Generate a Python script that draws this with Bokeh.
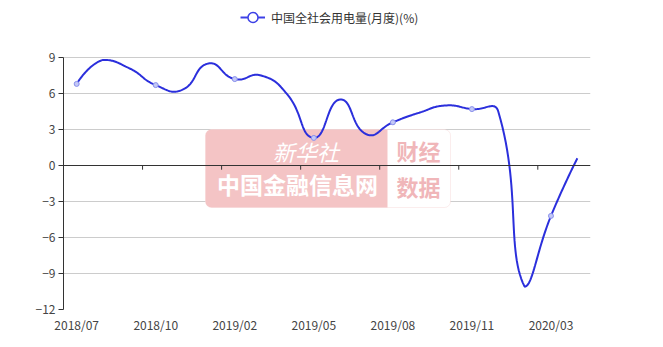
import numpy as np
from bokeh.plotting import figure
from bokeh.models import (Legend, LegendItem, Span, BoxAnnotation, Label,
                          FixedTicker, ColumnDataSource)
from bokeh.embed import file_html
from bokeh.resources import INLINE

# ---- data ----
months = ["2018/07", "2018/08", "2018/09", "2018/10", "2018/11", "2018/12",
          "2019/02", "2019/03", "2019/04", "2019/05", "2019/06", "2019/07",
          "2019/08", "2019/09", "2019/10", "2019/11", "2019/12", "2020/02",
          "2020/03", "2020/04"]
values = [6.8, 8.8, 8.1, 6.7, 6.3, 8.5, 7.2, 7.5, 5.9, 2.3, 5.5, 2.6,
          3.6, 4.4, 5.0, 4.7, 4.5, -10.1, -4.2, 0.6]
series_name = "中国全社会用电量(月度)(%)"
y_ticks = [-12, -9, -6, -3, 0, 3, 6, 9]
label_every = 3

LINE = "#2b2fdc"
FONT = "Noto Sans CJK SC"

# ---- smooth curve (echarts-like bezier smoothing, in pixel-proportional space) ----
SX, SY = 26.35, 12.0
xs = np.arange(len(values), dtype=float)
pts = np.column_stack([xs * SX, np.array(values) * SY])
lo, hi = pts.min(axis=0), pts.max(axis=0)
smooth = 0.5
cps = [pts[0].copy()]
for i in range(1, len(pts) - 1):
    prev, p, nxt = pts[i - 1], pts[i], pts[i + 1]
    v = (nxt - prev) * smooth
    d0 = np.linalg.norm(p - prev)
    d1 = np.linalg.norm(p - nxt)
    s = d0 + d1
    d0, d1 = d0 / s, d1 / s
    c0 = np.clip(p - v * d0, lo, hi)
    c1 = np.clip(p + v * d1, lo, hi)
    cps.append(c0)
    cps.append(c1)
cps.append(pts[-1].copy())
cx, cy = [], []
t = np.linspace(0, 1, 30)
for i in range(len(pts) - 1):
    P0, P1, P2, P3 = pts[i], cps[2 * i], cps[2 * i + 1], pts[i + 1]
    b = (np.outer((1 - t) ** 3, P0) + np.outer(3 * (1 - t) ** 2 * t, P1)
         + np.outer(3 * (1 - t) * t ** 2, P2) + np.outer(t ** 3, P3))
    cx.extend(b[:, 0] / SX)
    cy.extend(b[:, 1] / SY)

n = len(months)
y_lo, y_hi = y_ticks[0], y_ticks[-1]
top_room = 57 / SY  # space above the plot area for the legend
p = figure(width=663, height=347, x_range=(-0.5, n - 0.5),
           y_range=(y_lo, y_hi + top_room),
           output_backend="svg", toolbar_location=None,
           min_border_left=63, min_border_right=73, min_border_top=0,
           min_border_bottom=38)
p.outline_line_color = None
p.background_fill_color = "white"

# ---- watermark ----
wm_box = BoxAnnotation(left=4.889, right=14.187, top=3.0, bottom=-3.5,
                       fill_color="white", fill_alpha=1.0,
                       line_color="#f1c3c5", line_width=1,
                       border_radius=6, level="underlay")
wm_pink = BoxAnnotation(left=4.889, right=11.796, top=3.0, bottom=-3.5,
                        fill_color="#f4c4c5", fill_alpha=1.0, line_color=None,
                        border_radius=(6, 0, 0, 6), level="underlay")
p.add_layout(wm_box)
p.add_layout(wm_pink)
for txt, x, y, col, size, style in [
    ("新华社", 8.7, 1.2, "white", "22px", "italic"),
    ("中国金融信息网", 8.38, -1.58, "white", "23px", "bold"),
    ("财经", 12.97, 1.33, "#f0b6b9", "22px", "bold"),
    ("数据", 12.97, -1.67, "#f0b6b9", "22px", "bold"),
]:
    p.add_layout(Label(x=x, y=y, text=txt, text_align="center",
                       text_baseline="middle", text_color=col,
                       text_font_size=size, text_font_style=style,
                       text_font=FONT, level="underlay"))

# ---- grid & axes ----
p.xgrid.visible = False
p.ygrid.ticker = FixedTicker(ticks=y_ticks)
p.ygrid.grid_line_color = "#cccccc"

p.yaxis.ticker = FixedTicker(ticks=y_ticks)
p.yaxis.bounds = (y_lo, y_hi)
p.yaxis.axis_line_color = "#333333"
p.yaxis.major_tick_line_color = "#333333"
p.yaxis.major_tick_out = 5
p.yaxis.major_tick_in = 0
p.yaxis.minor_tick_line_color = None
p.yaxis.major_label_text_font = FONT
p.yaxis.major_label_text_font_size = "12px"
p.yaxis.major_label_text_color = "#444444"
p.yaxis.major_label_standoff = 3

tick_idx = list(range(0, n, label_every))
p.xaxis.ticker = FixedTicker(ticks=tick_idx)
p.xaxis.major_label_overrides = {i: months[i] for i in tick_idx}
p.xaxis.axis_line_color = None
p.xaxis.major_tick_line_color = None
p.xaxis.major_tick_out = 0
p.xaxis.major_tick_in = 0
p.xaxis.minor_tick_line_color = None
p.xaxis.major_label_text_font = FONT
p.xaxis.major_label_text_font_size = "12px"
p.xaxis.major_label_text_color = "#444444"
p.xaxis.major_label_standoff = 6

# zero axis line with category-boundary ticks
p.add_layout(Span(location=0, dimension="width", line_color="#333333",
                  line_width=1))
bx = [i - 0.5 for i in tick_idx]
p.segment(x0=bx, y0=[0] * len(bx), x1=bx, y1=[-0.35] * len(bx),
          line_color="#333333", line_width=1)

# ---- series ----
p.line(cx, cy, line_color=LINE, line_width=2)
mk = ColumnDataSource(dict(x=[float(i) for i in tick_idx],
                           y=[values[i] for i in tick_idx]))
p.scatter("x", "y", source=mk, size=5, fill_color="#c3c8f6",
          line_color="#8a91ec", line_width=1)

# ---- legend (icon-only renderers, nothing drawn in the plot) ----
lr = p.line([np.nan], [np.nan], line_color="#3c40e6", line_width=2)
sr = p.scatter([np.nan], [np.nan], size=11, fill_color="white",
               line_color="#3c40e6", line_width=1.5)
legend = Legend(items=[LegendItem(label=series_name, renderers=[lr, sr])],
                location=(177, 279), orientation="horizontal",
                border_line_color=None, background_fill_alpha=0,
                label_text_font=FONT, label_text_font_size="12px",
                label_text_color="#333333", glyph_width=25, glyph_height=26,
                padding=0, margin=0, label_standoff=6)
p.add_layout(legend)

open("out.html", "w").write(file_html(p, INLINE))
